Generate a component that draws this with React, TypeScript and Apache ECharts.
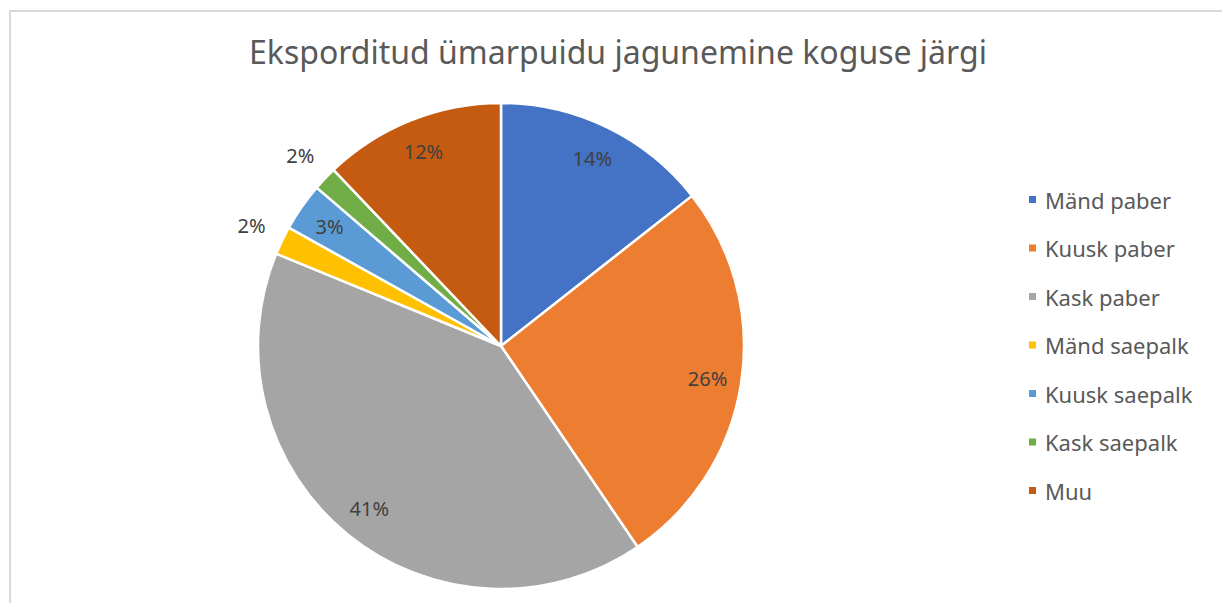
import React, { useEffect, useRef } from "react";
import * as echarts from "echarts";

const title = "Eksporditud ümarpuidu jagunemine koguse järgi";
const categories = ["Mänd paber", "Kuusk paber", "Kask paber", "Mänd saepalk", "Kuusk saepalk", "Kask saepalk", "Muu"];
const values = [14.4, 26.1, 40.7, 1.9, 3.2, 1.6, 12.1];
const colors = ["#4472C4", "#ED7D31", "#A5A5A5", "#FFC000", "#5B9BD5", "#70AD47", "#C55A11"];
const outsideLabels = ["Mänd saepalk", "Kask saepalk"];

export default function App() {
  const ref = useRef<HTMLDivElement>(null);
  useEffect(() => {
    if (!ref.current) return;
    const chart = echarts.init(ref.current, null, { renderer: "svg" });
    const cx = 501, cy = 346, R = 243;
    const total = values.reduce((a, b) => a + b, 0);
    const mids: number[] = [];
    let acc = 0;
    values.forEach((v) => {
      const a = (v / total) * Math.PI * 2;
      mids.push(acc + a / 2);
      acc += a;
    });
    const font = "'Noto Sans', sans-serif";
    chart.setOption({
      animation: false,
      backgroundColor: "#ffffff",
      title: {
        text: title,
        left: 244,
        top: 30,
        textStyle: { fontFamily: font, fontSize: 32, fontWeight: "normal", color: "#595959" },
      },
      graphic: [
        {
          type: "rect",
          shape: { x: 10, y: 11, width: 1400, height: 800 },
          style: { fill: "none", stroke: "#d9d9d9", lineWidth: 2 },
          silent: true,
        },
      ],
      legend: {
        orient: "vertical",
        left: 1022,
        top: 183,
        itemWidth: 9,
        itemHeight: 9,
        itemGap: 25.5,
        icon: "rect",
        data: categories,
        textStyle: { fontFamily: font, fontSize: 22, color: "#595959", lineHeight: 23, padding: [0, 0, 0, 3] },
      },
      series: [
        {
          type: "pie",
          center: [cx, cy],
          radius: [0, R],
          startAngle: 90,
          clockwise: true,
          data: categories.map((name, i) => ({
            name,
            value: values[i],
            itemStyle: { color: colors[i] },
          })),
          itemStyle: { borderColor: "#ffffff", borderWidth: 2.5 },
          label: {
            show: true,
            position: "inside",
            formatter: (p: any) => Math.round(p.percent) + "%",
            fontFamily: font,
            fontSize: 20,
            color: "#404040",
          },
          labelLine: { show: false },
          labelLayout: (p: any) => {
            const i = p.dataIndex;
            const r = outsideLabels.includes(categories[i]) ? R * 1.14 : R * 0.86;
            return {
              x: cx + r * Math.sin(mids[i]),
              y: cy - r * Math.cos(mids[i]),
              align: "center",
              verticalAlign: "middle",
            };
          },
          emphasis: { disabled: true },
        },
      ],
    });
    return () => chart.dispose();
  }, []);
  return <div ref={ref} style={{ position: "fixed", left: 0, top: 0, width: 1222, height: 603 }} />;
}
